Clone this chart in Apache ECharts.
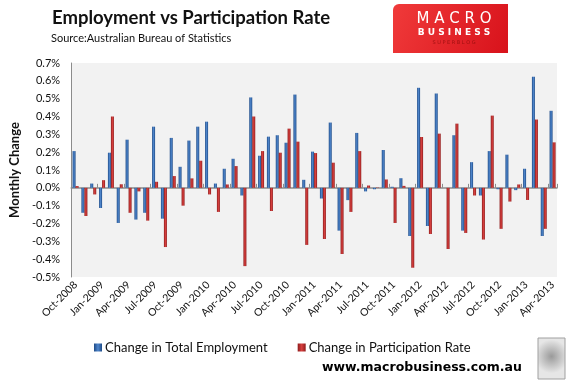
<!DOCTYPE html>
<html>
<head>
<meta charset="utf-8">
<script src="https://cdn.jsdelivr.net/npm/echarts@6/dist/echarts.min.js"></script>
<style>html,body{margin:0;padding:0;background:#fff}#c{width:572px;height:381px}</style>
</head>
<body>
<div id="c"></div>
<script>
var categories = [
 'Oct-2008','Nov-2008','Dec-2008',
 'Jan-2009','Feb-2009','Mar-2009','Apr-2009','May-2009','Jun-2009','Jul-2009','Aug-2009','Sep-2009','Oct-2009','Nov-2009','Dec-2009',
 'Jan-2010','Feb-2010','Mar-2010','Apr-2010','May-2010','Jun-2010','Jul-2010','Aug-2010','Sep-2010','Oct-2010','Nov-2010','Dec-2010',
 'Jan-2011','Feb-2011','Mar-2011','Apr-2011','May-2011','Jun-2011','Jul-2011','Aug-2011','Sep-2011','Oct-2011','Nov-2011','Dec-2011',
 'Jan-2012','Feb-2012','Mar-2012','Apr-2012','May-2012','Jun-2012','Jul-2012','Aug-2012','Sep-2012','Oct-2012','Nov-2012','Dec-2012',
 'Jan-2013','Feb-2013','Mar-2013','Apr-2013'
];
var employment = [
 0.206,-0.14,0.024,
 -0.113,0.197,-0.197,0.27,-0.178,-0.14,0.343,-0.173,0.28,0.118,0.265,0.343,
 0.371,0.024,0.107,0.163,-0.043,0.507,0.18,0.287,0.295,0.253,0.523,0.045,
 0.203,-0.06,0.366,-0.24,-0.069,0.308,-0.02,-0.008,0.212,0.006,0.054,-0.27,
 0.561,-0.214,0.529,0.0,0.295,-0.24,0.144,-0.043,0.206,-0.008,0.186,-0.013,
 0.107,0.623,-0.27,0.432
];
var participation = [
 0.01,-0.158,-0.037,
 0.043,0.40,0.02,-0.14,-0.02,-0.184,0.034,-0.332,0.066,-0.10,0.053,0.152,
 -0.037,-0.135,0.019,0.122,-0.439,0.40,0.206,-0.13,0.197,0.332,0.259,-0.32,
 0.195,-0.287,0.141,-0.371,-0.135,0.206,0.013,0.002,0.047,-0.197,0.011,-0.448,
 0.285,-0.259,0.304,-0.343,0.36,-0.253,-0.043,-0.29,0.405,-0.23,-0.077,0.019,
 -0.068,0.383,-0.23,0.255
];
var seriesNames = ['Change in Total Employment','Change in Participation Rate'];

var chart = echarts.init(document.getElementById('c'));
function grad(a,b){return new echarts.graphic.LinearGradient(0,0,1,0,[{offset:0,color:a},{offset:0.5,color:b},{offset:1,color:a}]);}
var blue = grad('#1d4a86','#4f86cc');
var red = grad('#8e1b1b','#d8403f');

chart.setOption({
  animation:false,
  backgroundColor:'#ffffff',
  textStyle:{fontFamily:'Lato'},
  title:[
    {text:'Employment vs Participation Rate',left:52,top:9,padding:0,textStyle:{fontFamily:'Lato',fontWeight:'bold',fontSize:18.5,color:'#111'}},
    {text:'Source:Australian Bureau of Statistics',left:51,top:33,padding:0,textStyle:{fontFamily:'Lato',fontWeight:'normal',fontSize:11,color:'#111'}}
  ],
  legend:{
    left:89, top:336, itemWidth:8, itemHeight:8, itemGap:30, icon:'rect',
    textStyle:{fontFamily:'Lato',fontSize:13,color:'#111',padding:[0,0,0,-2]},
    data:seriesNames
  },
  grid:{left:61,right:15,top:63,bottom:104,show:true,backgroundColor:'#f2f2f2',borderWidth:0},
  xAxis:[
    {type:'category',data:categories,gridIndex:0,position:'bottom',
     axisLine:{onZero:true,lineStyle:{color:'#8c8c8c',width:1.5}},
     axisTick:{show:true,inside:true,interval:2,length:4,lineStyle:{color:'#8c8c8c'}},
     axisLabel:{show:false}},
    {type:'category',data:categories,gridIndex:0,position:'bottom',
     axisLine:{show:false,onZero:false},axisTick:{show:false},
     axisLabel:{interval:2,rotate:45,margin:6,fontFamily:'Lato',fontSize:10.5,color:'#111'}}
  ],
  yAxis:{
    type:'value',min:-0.5,max:0.7,interval:0.1,
    name:'Monthly Change',nameLocation:'middle',nameGap:44,
    nameTextStyle:{fontFamily:'Lato',fontWeight:'bold',fontSize:13,color:'#111'},
    axisLine:{show:true,lineStyle:{color:'#8c8c8c',width:1}},
    axisTick:{show:false},splitLine:{show:false},
    axisLabel:{margin:11,fontFamily:'Lato',fontSize:11,color:'#111',
      formatter:function(v){return (Math.round(v*10)/10).toFixed(1)+'%';}}
  },
  series:[
    {name:seriesNames[0],type:'bar',xAxisIndex:0,data:employment,barWidth:3,barGap:'0%',
     itemStyle:{color:blue}},
    {name:seriesNames[1],type:'bar',xAxisIndex:0,data:participation,barWidth:3,barGap:'0%',
     itemStyle:{color:red}}
  ],
  graphic:[
    {type:'rect',shape:{x:393,y:4,width:115,height:49,r:[6,0,0,0]},
     style:{fill:new echarts.graphic.LinearGradient(0,0,1,1,[{offset:0,color:'#f03a3a'},{offset:1,color:'#d8121b'}])}},
    {type:'text',style:{text:'M A C R O',x:454,y:19,textAlign:'center',textVerticalAlign:'middle',fill:'#fff',font:'15px "DejaVu Sans"'}},
    {type:'text',style:{text:'B U S I N E S S',x:454,y:33,textAlign:'center',textVerticalAlign:'middle',fill:'#fff',font:'bold 9px "DejaVu Sans"'}},
    {type:'text',style:{text:'S U P E R B L O G',x:454,y:43,textAlign:'center',textVerticalAlign:'middle',fill:'#a01010',font:'5px "DejaVu Sans"'}},
    {type:'text',style:{text:'www.macrobusiness.com.au',x:322,y:368,textVerticalAlign:'middle',fill:'#000',font:'bold 12.5px "DejaVu Sans"'}},
    {type:'rect',shape:{x:538,y:338,width:27,height:41},
     style:{fill:new echarts.graphic.RadialGradient(0.5,0.45,0.6,[{offset:0,color:'#9a9a9a'},{offset:0.6,color:'#c8c8c8'},{offset:1,color:'#e6e6e6'}]),stroke:'#a0a0a0',lineWidth:1}}
  ]
});
</script>
</body>
</html>
